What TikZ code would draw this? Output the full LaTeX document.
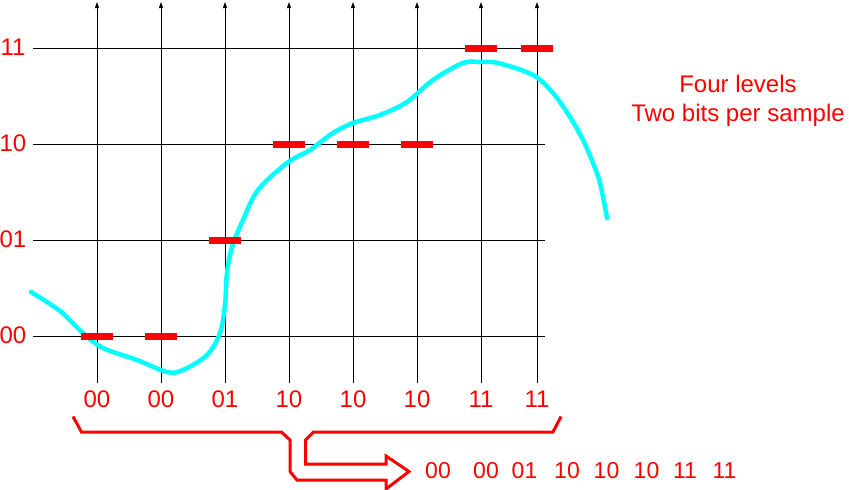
\documentclass[tikz,border=0pt]{standalone}
\usepackage{fontspec}
\setmainfont{Liberation Sans}
\usetikzlibrary{arrows.meta}
\definecolor{lblred}{RGB}{255,0,0}
\definecolor{sigcyan}{RGB}{0,255,255}
\tikzset{
  gridline/.style={black, line width=1pt},
  axisline/.style={black, line width=1pt, -{Triangle[length=6pt,width=4pt]}},
  lvl/.style={text=lblred, font=\fontsize{24}{28}\selectfont, inner sep=0pt},
  seqlbl/.style={text=lblred, font=\fontsize{23}{27}\selectfont, inner sep=0pt},
  qbar/.style={fill=lblred, draw=none},
  signal/.style={sigcyan, line width=4.5pt, line cap=round, line join=round},
  bracket/.style={lblred, line width=3pt, line join=miter},
}
\begin{document}
\begin{tikzpicture}[x=1pt,y=-1pt]
\useasboundingbox (0,0) rectangle (849,490);
% horizontal grid lines
\foreach \yy in {48,144,240,336} \draw[gridline] (33,\yy) -- (545,\yy);
% vertical axes with arrows
\foreach \xx in {97,161,225,289,353,417,481,537} \draw[axisline] (\xx,383) -- (\xx,2);
% level labels
\node[lvl] (l11) at (13,47) {11};
\node[lvl] (l10) at (13,143) {10};
\node[lvl] (l01) at (13,239) {01};
\node[lvl] (l00) at (13,335) {00};
% signal
\draw[signal] plot[smooth, tension=0.55] coordinates {(31,292) (60,311) (83,333) (103,348) (137,360) (167,372) (183,370) (207,355) (220,333) (225,305) (227,273) (232,247) (243,220) (258,190) (287,163) (310,150) (333,133) (353,123) (380,115) (407,102) (433,80) (463,63) (480,62) (498,63) (533,75) (553,93) (570,117) (583,140) (593,163) (600,183) (607,218)};
% quantized bars
\foreach \xx/\yy in {97/336,161/336,225/240,289/144,353/144,417/144,481/48,537/48}
  \fill[qbar] (\xx-16,\yy-3.5) rectangle (\xx+16,\yy+3.5);
% sample labels
\foreach \xx/\tt [count=\i] in {97/00,161/00,225/01,289/10,353/10,417/10,481/11,537/11}
  \node[lvl] (s\i) at (\xx,399) {\tt};
% side text
\node[lvl, align=center, font=\fontsize{24}{29}\selectfont] (note) at (738,101) {Four levels\\Two bits per sample};
% bracket and arrow
\draw[bracket] (73,416.5) -- (81.5,432) -- (281.5,432) -- (290,440) -- (290,471.5) -- (297,480) -- (386,480) -- (386,489) -- (409,471.5) -- (386,456) -- (386,464) -- (305.5,464) -- (305.5,440) -- (313.5,432) -- (553,432) -- (561,416.5);
% output sequence
\foreach \xx/\tt [count=\i] in {438/00,486/00,524.5/01,567/10,606.5/10,646.5/10,685/11,724.5/11}
  \node[seqlbl] (o\i) at (\xx,471) {\tt};
\end{tikzpicture}
\end{document}
